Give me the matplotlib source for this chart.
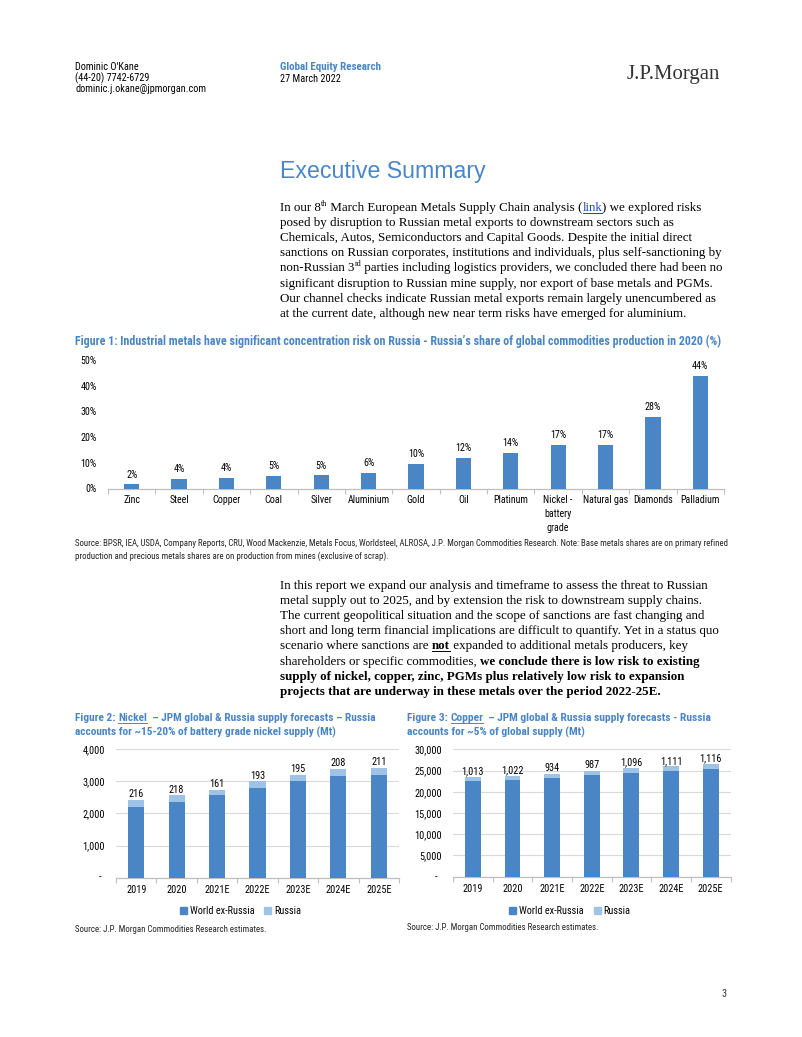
import os
import matplotlib
matplotlib.use('Agg')
import matplotlib.pyplot as plt
from matplotlib import font_manager
from matplotlib.font_manager import FontProperties
from matplotlib.lines import Line2D
from matplotlib.patches import Patch
import numpy as np

# ---------------- data ----------------
fig1_categories = ['Zinc', 'Steel', 'Copper', 'Coal', 'Silver', 'Aluminium', 'Gold', 'Oil',
                   'Platinum', 'Nickel -\nbattery\ngrade', 'Natural gas', 'Diamonds', 'Palladium']
fig1_share = [1.6, 3.6, 4.1, 5.0, 5.1, 5.9, 9.6, 11.9, 13.9, 16.8, 16.9, 27.8, 43.9]
fig1_yticks = [0, 10, 20, 30, 40, 50]

years = ['2019', '2020', '2021E', '2022E', '2023E', '2024E', '2025E']
nickel_ex_russia = [2210, 2340, 2560, 2800, 3000, 3175, 3195]
nickel_russia = [216, 218, 161, 193, 195, 208, 211]
nickel_yticks = [0, 1000, 2000, 3000, 4000]

copper_ex_russia = [22500, 22730, 23210, 23870, 24470, 24860, 25330]
copper_russia = [1013, 1022, 934, 987, 1096, 1111, 1116]
copper_yticks = [0, 5000, 10000, 15000, 20000, 25000, 30000]

series_names = ['World ex-Russia', 'Russia']

# ---------------- setup ----------------
W, H = 802, 1037
fig = plt.figure(figsize=(W / 100, H / 100), dpi=100)
fig.patch.set_facecolor('white')
renderer = fig.canvas.get_renderer()


def find_file(patterns):
    files = {os.path.basename(f.fname).lower(): f.fname for f in font_manager.fontManager.ttflist}
    for p in patterns:
        for b, full in files.items():
            if b.startswith(p.lower()):
                return full
    return None


nr_file = find_file(['LiberationSansNarrow-Regular', 'ArialNarrow', 'arialn.', 'RobotoCondensed-Regular',
                     'NotoSans-Condensed.', 'NotoSans-CondensedRegular', 'OpenSans_Condensed-Regular',
                     'OpenSansCondensed-Regular', 'DejaVuSansCondensed.'])
nb_file = find_file(['LiberationSansNarrow-Bold.', 'ArialNarrow-Bold', 'arialnb.', 'RobotoCondensed-Bold.',
                     'NotoSans-CondensedBold.', 'OpenSans_Condensed-Bold.', 'OpenSansCondensed-Bold.',
                     'DejaVuSansCondensed-Bold.'])

SANS = 'Liberation Sans'
SERIF = 'Liberation Serif'


def F(kind, size, **extra):
    """Font keyword arguments. kind: 'nr' narrow regular, 'nb' narrow bold, 'sans', 'serif', 'serifb'."""
    if kind == 'nr':
        d = {'fontproperties': FontProperties(fname=nr_file)} if nr_file else {'family': SANS}
    elif kind == 'nb':
        d = ({'fontproperties': FontProperties(fname=nb_file)} if nb_file
             else {'family': SANS, 'weight': 'bold'})
    elif kind == 'sans':
        d = {'family': SANS}
    elif kind == 'serif':
        d = {'family': SERIF}
    else:
        d = {'family': SERIF, 'weight': 'bold'}
    d['fontsize'] = size
    d.update(extra)
    return d


BLUE = '#4A86C5'
LIGHT = '#9FC3E7'
TITLE_BLUE = '#4A86C5'
GRAY_TXT = '#222222'


def fy(y):
    return 1 - y / H


def text_width(s, kw):
    t = fig.text(0, 0, s + '|', **kw)
    w1 = t.get_window_extent(renderer).width
    t.remove()
    t = fig.text(0, 0, '|', **kw)
    w2 = t.get_window_extent(renderer).width
    t.remove()
    return w1 - w2


def fit_size(s, target, kind, ref=10):
    return ref * target / text_width(s, F(kind, ref))


def T(x, y, s, kind, size, **kw):
    kw.setdefault('va', 'baseline')
    return fig.text(x / W, fy(y), s, **F(kind, size), **kw)


def seg_list(segs):
    out = []
    for seg in segs:
        out.append((seg, {}) if isinstance(seg, str) else seg)
    return out


def rich_line(x, y, segs, size, kind, color='black'):
    """y is the baseline in pixels."""
    cur = x
    for s, st in seg_list(segs):
        k = st.get('kind', kind)
        fs = size * 0.62 if st.get('sup') else size
        yy = y - size * 0.55 if st.get('sup') else y
        kw = F(k, fs, color=st.get('color', color))
        fig.text(cur / W, fy(yy), s, va='baseline', ha='left', **kw)
        w = text_width(s, kw)
        if st.get('underline'):
            fig.add_artist(Line2D([cur / W, (cur + w) / W], [fy(y + 1.6)] * 2,
                                  transform=fig.transFigure, color=st.get('color', color), lw=0.7))
        cur += w
    return cur


def rich_fit(segs, target, kind, ref=10):
    w = sum(text_width(s, F(st.get('kind', kind), ref)) for s, st in seg_list(segs))
    return ref * target / w


# ---------------- header ----------------
hsize = fit_size('dominic.j.okane@jpmorgan.com', 131, 'nr')
T(75, 70.5, "Dominic O'Kane", 'nr', hsize, color='black')
T(75, 81.5, '(44-20) 7742-6729', 'nr', hsize, color='black')
T(75, 92, 'dominic.j.okane@jpmorgan.com', 'nr', hsize, color='black')
gsize = fit_size('Global Equity Research', 101, 'nb')
T(280, 70.5, 'Global Equity Research', 'nb', gsize, color=TITLE_BLUE)
T(280, 81.5, '27 March 2022', 'nr', hsize, color='black')
lsize = fit_size('J.P.Morgan', 93, 'serif')
T(627, 78.5, 'J.P.Morgan', 'serif', lsize, color='#333333')

# ---------------- title & paragraph 1 ----------------
tsize = fit_size('Executive Summary', 207, 'sans')
T(280, 178, 'Executive Summary', 'sans', tsize, color=TITLE_BLUE)

bsize = fit_size('sanctions on Russian corporates, institutions and individuals, plus self-sanctioning by',
                 444, 'serif')
LINK = '#1F3FBF'
para1 = [
    ['In our 8', ('th', {'sup': True}), ' March European Metals Supply Chain analysis (',
     ('link', {'color': LINK, 'underline': True}), ') we explored risks'],
    ['posed by disruption to Russian metal exports to downstream sectors such as'],
    ['Chemicals, Autos, Semiconductors and Capital Goods. Despite the initial direct'],
    ['sanctions on Russian corporates, institutions and individuals, plus self-sanctioning by'],
    ['non-Russian 3', ('rd', {'sup': True}), ' parties including logistics providers, we concluded there had been no'],
    ['significant disruption to Russian mine supply, nor export of base metals and PGMs.'],
    ['Our channel checks indicate Russian metal exports remain largely unencumbered as'],
    ['at the current date, although new near term risks have emerged for aluminium.'],
]
for i, segs in enumerate(para1):
    rich_line(280, 211 + i * 15.1, segs, bsize, 'serif')

B = {'kind': 'serifb'}
para2 = [
    ['In this report we expand our analysis and timeframe to assess the threat to Russian'],
    ['metal supply out to 2025, and by extension the risk to downstream supply chains.'],
    ['The current geopolitical situation and the scope of sanctions are fast changing and'],
    ['short and long term financial implications are difficult to quantify. Yet in a status quo'],
    ['scenario where sanctions are ', ('not', {'kind': 'serifb', 'underline': True}),
     ' expanded to additional metals producers, key'],
    ['shareholders or specific commodities, ', ('we conclude there is low risk to existing', B)],
    [('supply of nickel, copper, zinc, PGMs plus relatively low risk to expansion', B)],
    [('projects that are underway in these metals over the period 2022-25E.', B)],
]
for i, segs in enumerate(para2):
    rich_line(280, 589 + i * 15.1, segs, bsize, 'serif')

# ---------------- figure titles & sources ----------------
f1title = ("Figure 1: Industrial metals have significant concentration risk on Russia - "
           "Russia\u2019s share of global commodities production in 2020 (%)")
ftsize = fit_size(f1title, 647, 'nb')
T(75, 345, f1title, 'nb', ftsize, color=TITLE_BLUE)

src1 = ("Source: BPSR, IEA, USDA, Company Reports, CRU, Wood Mackenzie, Metals Focus, Worldsteel, "
        "ALROSA, J.P. Morgan Commodities Research. Note: Base metals shares are on primary refined")
ssize = fit_size(src1, 645, 'nr')
T(75, 546.5, src1, 'nr', ssize, color=GRAY_TXT)
T(75, 558.5, 'production and precious metals shares are on production from mines (exclusive of scrap).',
  'nr', ssize, color=GRAY_TXT)

TB = {'color': TITLE_BLUE}
TBU = {'color': TITLE_BLUE, 'underline': True}
f2l1 = [('Figure 2: ', TB), ('Nickel', TBU), ('  \u2013 JPM global & Russia supply forecasts \u2013 Russia', TB)]
f2l2 = [('accounts for ~15-20% of battery grade nickel supply (Mt)', TB)]
f3l1 = [('Figure 3: ', TB), ('Copper', TBU), ('  \u2013 JPM global & Russia supply forecasts - Russia', TB)]
f3l2 = [('accounts for ~5% of global supply (Mt)', TB)]
f2size = rich_fit(f2l1, 301, 'nb')
f3size = rich_fit(f3l1, 305, 'nb')
rich_line(75, 721, f2l1, f2size, 'nb')
rich_line(75, 736, f2l2, f2size, 'nb')
rich_line(407, 721, f3l1, f3size, 'nb')
rich_line(407, 736, f3l2, f3size, 'nb')

T(75, 932.5, 'Source: J.P. Morgan Commodities Research estimates.', 'nr', ssize, color=GRAY_TXT)
T(407, 930, 'Source: J.P. Morgan Commodities Research estimates.', 'nr', ssize, color=GRAY_TXT)

T(722, 997, '3', 'nr', hsize, color='#333333')

# ---------------- axes helpers ----------------
TICK1 = min(8.5, fit_size('Diamonds', 39.7, 'nr'))
TICK2 = min(9.0, fit_size('2021E', 25, 'nr'))
AXC = '#BFBFBF'


def ax_px(l, t, r, b):
    return fig.add_axes([l / W, fy(b), (r - l) / W, (b - t) / H])


def style_axis(ax, n, tick):
    for s in ['top', 'right', 'left']:
        ax.spines[s].set_visible(False)
    ax.spines['bottom'].set_color(AXC)
    ax.spines['bottom'].set_linewidth(0.9)
    ax.set_xlim(-0.5, n - 0.5)
    ax.set_xticks(np.arange(n))
    ax.set_xticks(np.arange(-0.5, n, 1), minor=True)
    ax.tick_params(axis='x', which='major', length=0, pad=5)
    ax.tick_params(axis='x', which='minor', length=3.5, color=AXC, width=0.8)
    ax.tick_params(axis='y', length=0, pad=8)
    kw = F('nr', tick)
    for lab in ax.get_xticklabels() + ax.get_yticklabels():
        if 'fontproperties' in kw:
            lab.set_fontproperties(kw['fontproperties'])
        else:
            lab.set_fontfamily(kw['family'])
        lab.set_fontsize(tick)
        lab.set_color('black')


# ---------------- figure 1 ----------------
ax1 = ax_px(108, 360, 724, 488.5)
x1 = np.arange(len(fig1_categories))
ax1.bar(x1, fig1_share, width=0.32, color=BLUE, zorder=3)
ax1.set_ylim(0, 50)
ax1.set_yticks(fig1_yticks)
ax1.set_yticklabels([f'{v}%' for v in fig1_yticks])
ax1.set_xticklabels(fig1_categories, linespacing=1.5)
style_axis(ax1, len(fig1_categories), TICK1)
for xi, v in zip(x1, fig1_share):
    ax1.annotate(f'{v:.0f}%', (xi, v), xytext=(0, 3.5), textcoords='offset points', ha='center',
                 va='bottom', color='black', annotation_clip=False, **F('nr', TICK1))


# ---------------- figures 2 & 3 ----------------
def stacked(ax, ex, ru, yticks, ymax, zero_x, legend_cx):
    n = len(years)
    x = np.arange(n)
    ax.bar(x, ex, width=0.4, color=BLUE, zorder=3, label=series_names[0])
    ax.bar(x, ru, width=0.4, bottom=ex, color=LIGHT, zorder=3, label=series_names[1])
    ax.set_ylim(0, ymax)
    ax.set_yticks(yticks)
    ax.set_yticklabels(['' if v == 0 else f'{v:,}' for v in yticks])
    ax.set_xticklabels(years)
    ax.grid(axis='y', color='#D9D9D9', lw=0.8, zorder=0)
    ax.set_axisbelow(True)
    style_axis(ax, n, TICK2)
    for xi, e, r in zip(x, ex, ru):
        ax.annotate(f'{r:,}', (xi, e + r), xytext=(0, 0.5), textcoords='offset points',
                    ha='center', va='bottom', color='black', annotation_clip=False,
                    **F('nr', TICK2))
    T(zero_x, 880.5, '-', 'nr', TICK2, ha='right', color='black')
    handles = [Patch(color=BLUE), Patch(color=LIGHT)]
    kw = F('nr', TICK2)
    prop = kw['fontproperties'].copy() if 'fontproperties' in kw else FontProperties(family=kw['family'])
    prop.set_size(TICK2)
    ax.legend(handles, series_names, loc='center', bbox_to_anchor=(legend_cx / W, fy(911)),
              bbox_transform=fig.transFigure, ncol=2, frameon=False, handlelength=0.65,
              handleheight=0.65, handletextpad=0.3, columnspacing=1.0, prop=prop)


ax2 = ax_px(116, 749, 399, 877.7)
stacked(ax2, nickel_ex_russia, nickel_russia, nickel_yticks, 4000, 101, 240.5)

ax3 = ax_px(453, 749.3, 730.5, 876.7)
stacked(ax3, copper_ex_russia, copper_russia, copper_yticks, 30000, 437, 570)

fig.savefig('out.png', dpi=100, facecolor='white')
